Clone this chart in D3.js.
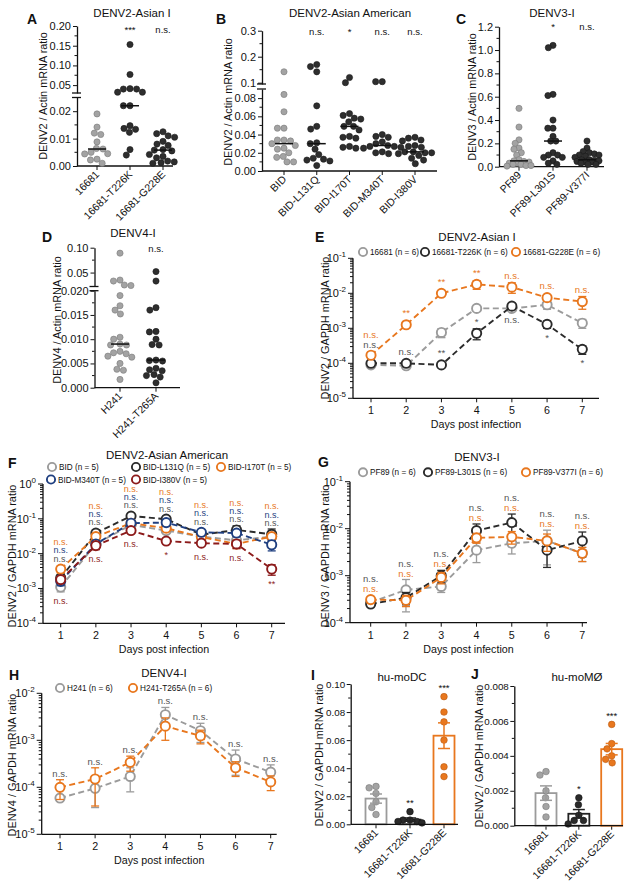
<!DOCTYPE html>
<html><head><meta charset="utf-8">
<script src="https://cdn.jsdelivr.net/npm/d3@7"></script>
<style>body{margin:0;background:#fff}svg{display:block}</style>
</head><body><svg id="c" width="639" height="886"></svg>
<script>
// ---------------- DATA ----------------
// Panel A
const catsA = ["16681", "16681-T226K", "16681-G228E"];
const a16681 = [0.019, 0.0142, 0.0120, 0.0115, 0.0088, 0.0064, 0.0062, 0.0050, 0.0045, 0.0044, 0.0025, 0.0022, 0.0010];
const aT226K = [0.153, 0.077, 0.041, 0.040, 0.040, 0.032, 0.032, 0.022, 0.022, 0.0147, 0.0137, 0.0134, 0.0123, 0.0060, 0.0040];
const aG228E = [0.0125, 0.0118, 0.0110, 0.0105, 0.0090, 0.0080, 0.0075, 0.0060, 0.0058, 0.0055, 0.0042, 0.0035, 0.0030, 0.0018, 0.0015, 0.0012, 0.0010];
const sigA = ["", "***", "n.s."];
const ticksALow = [0, 0.01, 0.02], ticksAHigh = [0.05, 0.10, 0.15, 0.20];
// Panel B
const catsB = ["BID", "BID-L131Q", "BID-I170T", "BID-M340T", "BID-I380V"];
const bBID = [0.142, 0.084, 0.065, 0.047, 0.047, 0.034, 0.034, 0.033, 0.030, 0.028, 0.025, 0.024, 0.020, 0.016, 0.015, 0.010, 0.010];
const bL131Q = [0.170, 0.162, 0.142, 0.0715, 0.049, 0.046, 0.031, 0.030, 0.024, 0.018, 0.014, 0.013, 0.012, 0.011, 0.006];
const bI170T = [0.120, 0.100, 0.063, 0.061, 0.058, 0.057, 0.054, 0.049, 0.049, 0.045, 0.038, 0.037, 0.036, 0.027, 0.026, 0.025];
const bM340T = [0.104, 0.104, 0.040, 0.038, 0.037, 0.032, 0.030, 0.028, 0.027, 0.027, 0.026, 0.025, 0.021, 0.020, 0.019];
const bI380V = [0.037, 0.036, 0.034, 0.033, 0.028, 0.027, 0.026, 0.021, 0.021, 0.020, 0.020, 0.019, 0.017, 0.014, 0.012, 0.008];
const sigB = ["", "n.s.", "*", "n.s.", "n.s."];
const ticksBLow = [0, 0.02, 0.04, 0.06, 0.08], ticksBHigh = [0.1, 0.2, 0.3];
// Panel C
const catsC = ["PF89", "PF89-L301S", "PF89-V377I"];
const cPF89 = [0.50, 0.34, 0.23, 0.20, 0.16, 0.15, 0.12, 0.10, 0.06, 0.05, 0.045, 0.04, 0.03, 0.03, 0.02, 0.02, 0.01, 0.01, 0.005];
const cL301S = [1.04, 1.02, 0.62, 0.61, 0.40, 0.33, 0.33, 0.26, 0.22, 0.22, 0.12, 0.10, 0.10, 0.08, 0.08, 0.05, 0.03, 0.02];
const cV377I = [0.22, 0.16, 0.13, 0.12, 0.11, 0.10, 0.10, 0.09, 0.08, 0.06, 0.06, 0.055, 0.05, 0.045, 0.04, 0.04, 0.03, 0.02, 0.02];
const sigC = ["", "*", "n.s."];
const ticksC = [0, 0.2, 0.4, 0.6, 0.8, 1.0, 1.2];
// Panel D
const catsD = ["H241", "H241-T265A"];
const dH241 = [0.089, 0.035, 0.033, 0.025, 0.024, 0.019, 0.0169, 0.0160, 0.0152, 0.0104, 0.0100, 0.0090, 0.0088, 0.0088, 0.0075, 0.0072, 0.0070, 0.0065, 0.0063, 0.0050, 0.0038, 0.0036, 0.0017];
const dT265A = [0.052, 0.033, 0.0165, 0.0160, 0.0116, 0.0115, 0.0100, 0.0089, 0.0088, 0.0057, 0.0056, 0.0055, 0.0040, 0.0037, 0.0035, 0.0027, 0.0025, 0.0022, 0.0010];
const sigD = ["", "n.s."];
const ticksDLow = [0, 0.005, 0.010, 0.015, 0.020], ticksDHigh = [0.05, 0.10];
// Time courses
const days = [1, 2, 3, 4, 5, 6, 7];
// Panel E
const e16681 = [9e-5, 8.5e-5, 7.6e-4, 3.7e-3, 3.7e-3, 4.7e-3, 1.4e-3];
const e16681Sem = [1e-5, 1e-5, 2.2e-4, 5e-4, 5e-4, 1.2e-3, 4e-4];
const eT226K = [1.0e-4, 1.0e-4, 9e-5, 7.2e-4, 4.3e-3, 1.3e-3, 2.5e-4];
const eT226KSem = [1e-5, 1e-5, 1e-5, 2.5e-4, 8e-4, 3e-4, 7e-5];
const eG228E = [1.7e-4, 1.26e-3, 1.0e-2, 1.8e-2, 1.5e-2, 7.5e-3, 5.8e-3];
const eG228ESem = [3e-5, 2e-4, 1.5e-3, 5e-3, 5e-3, 1.5e-3, 2.3e-3];
const eSigT226K = ["n.s.", "n.s.", "**", "*", "n.s.", "*", "*"];
const eSigG228E = ["n.s.", "**", "**", "**", "n.s.", "n.s.", "n.s."];
// Panel F
const fBID = [1.1e-3, 0.019, 0.067, 0.046, 0.031, 0.024, 0.031];
const fBIDSem = [3e-4, 4e-3, 1e-2, 8e-3, 5e-3, 5e-3, 8e-3];
const fL131Q = [2.0e-3, 0.039, 0.12, 0.098, 0.035, 0.048, 0.036];
const fL131QSem = [5e-4, 1e-2, 2e-2, 2e-2, 5e-3, 1.5e-2, 1.5e-2];
const fI170T = [3.6e-3, 0.031, 0.075, 0.054, 0.030, 0.019, 0.031];
const fI170TSem = [8e-4, 5e-3, 1e-2, 1e-2, 5e-3, 5e-3, 5e-3];
const fM340T = [1.6e-3, 0.019, 0.075, 0.078, 0.041, 0.039, 0.018];
const fM340TSem = [4e-4, 5e-3, 1e-2, 1.5e-2, 8e-3, 8e-3, 6e-3];
const fI380V = [1.8e-3, 0.017, 0.046, 0.023, 0.020, 0.019, 3.6e-3];
const fI380VSem = [4e-4, 4e-3, 8e-3, 3e-3, 3e-3, 5e-3, 1.2e-3];
const fSigL131Q = ["n.s.", "n.s.", "n.s.", "n.s.", "n.s.", "n.s.", "n.s."];
const fSigI170T = ["n.s.", "n.s.", "n.s.", "n.s.", "n.s.", "n.s.", "n.s."];
const fSigM340T = ["n.s.", "n.s.", "n.s.", "n.s.", "n.s.", "n.s.", "n.s."];
const fSigI380V = ["n.s.", "n.s.", "n.s.", "*", "n.s.", "n.s.", "**"];
// Panel G
const gPF89 = [2.7e-4, 5e-4, 5.9e-4, 3.5e-3, 4.9e-3, 5.5e-3, 3.0e-3];
const gPF89Sem = [4e-5, 3.3e-4, 1.5e-4, 1.6e-3, 2e-3, 3.8e-3, 1e-3];
const gL301S = [2.5e-4, 3.4e-4, 1.0e-3, 9.1e-3, 1.35e-2, 3.5e-3, 5.5e-3];
const gL301SSem = [3e-5, 1e-4, 3e-4, 3.5e-3, 7e-3, 2e-3, 3e-3];
const gV377I = [3.1e-4, 3.0e-4, 9.2e-4, 6.4e-3, 6.7e-3, 5.5e-3, 3.0e-3];
const gV377ISem = [5e-5, 8e-5, 2.5e-4, 1.5e-3, 2e-3, 2.2e-3, 1e-3];
const gSigL301S = ["n.s.", "n.s.", "n.s.", "n.s.", "n.s.", "n.s.", "n.s."];
const gSigV377I = ["n.s.", "n.s.", "n.s.", "n.s.", "n.s.", "n.s.", "n.s."];
// Panel H
const hH241 = [5.9e-5, 9.5e-5, 1.7e-4, 3.5e-3, 1.6e-3, 4.0e-4, 2.1e-4];
const hH241Sem = [8e-6, 5.8e-5, 9e-5, 1.5e-3, 7e-4, 2.2e-4, 9e-5];
const hT265A = [1.0e-4, 1.5e-4, 3.4e-4, 2.0e-3, 1.24e-3, 2.6e-4, 1.3e-4];
const hT265ASem = [4.5e-5, 1.1e-4, 1.2e-4, 1e-3, 4e-4, 9e-5, 4.5e-5];
const hSigT265A = ["n.s.", "n.s.", "n.s.", "n.s.", "n.s.", "n.s.", "n.s."];
// Panels I / J
const catsIJ = ["16681", "16681-T226K", "16681-G228E"];
const i16681 = [0.027, 0.026, 0.022, 0.016, 0.012, 0.007];
const iT226K = [0.009, 0.003, 0.003, 0.002, 0.002, 0.001];
const iG228E = [0.091, 0.080, 0.073, 0.060, 0.041, 0.034];
const sigI = ["", "**", "***"];
const ticksI = [0, 0.02, 0.04, 0.06, 0.08, 0.10];
const j16681 = [0.0031, 0.0029, 0.0020, 0.0016, 0.0011, 0.0005];
const jT226K = [0.0016, 0.0012, 0.0006, 0.0003, 0.0003, 0.0001];
const jG228E = [0.0058, 0.0047, 0.0044, 0.0040, 0.0038, 0.0036];
const sigJ = ["", "*", "***"];
const ticksJ = [0, 0.002, 0.004, 0.006, 0.008];

// ---------------- DRAWING ----------------
const FONT = '"Liberation Sans", Arial, Helvetica, sans-serif';
const COL = {gray: "#9b9b9b", black: "#2b2b2b", orange: "#e8771e", navy: "#1f3f80", red: "#8c1b1b", ann: "#555555", ink: "#111111"};
const svg = d3.select("#c").attr("font-family", FONT);

function txt(g, x, y, s, o = {}) {
  const t = g.append("text").attr("x", x).attr("y", y).text(s)
    .attr("font-size", o.size || 11).attr("fill", o.fill || COL.ink)
    .attr("text-anchor", o.anchor || "start");
  if (o.weight) t.attr("font-weight", o.weight);
  if (o.rotate) t.attr("transform", `rotate(${o.rotate},${x},${y})`);
  return t;
}
function yLabel(g, cx, cy, s) { txt(g, cx + 4, cy, s, {size: 10.9, anchor: "middle", rotate: -90}); }
function letter(g, x, y, s) { txt(g, x, y, s, {size: 14, weight: "bold"}); }
function line(g, x1, y1, x2, y2, col, w) {
  return g.append("line").attr("x1", x1).attr("y1", y1).attr("x2", x2).attr("y2", y2)
    .attr("stroke", col || COL.ink).attr("stroke-width", w || 1);
}
// deterministic beeswarm: places each dot at the smallest horizontal offset that avoids overlap
function swarm(ys, cx, r, sep, maxOff) {
  const d = sep || 2 * r + 0.4, M = maxOff || 1e9;
  const idx = ys.map((y, i) => i).sort((a, b) => ys[a] - ys[b]);
  const placed = [], xs = new Array(ys.length);
  idx.forEach(i => {
    const y = ys[i];
    const near = placed.filter(p => Math.abs(p.y - y) < d);
    const cands = [0];
    near.forEach(p => { const dx = Math.sqrt(d * d - (p.y - y) ** 2); cands.push(p.x + dx - cx, p.x - dx - cx); });
    cands.sort((a, b) => Math.abs(a) - Math.abs(b) || a - b);
    let xo = null;
    for (const c of cands) {
      if (Math.abs(c) > M + 1e-6) continue;
      if (near.every(p => (p.x - (cx + c)) ** 2 + (p.y - y) ** 2 >= d * d - 0.01)) { xo = c; break; }
    }
    if (xo === null) {
      let best = -1;
      for (let c = -M; c <= M + 1e-6; c += 1) {
        const md = d3.min(near, p => (p.x - (cx + c)) ** 2 + (p.y - y) ** 2);
        if (md > best) { best = md; xo = c; }
      }
    }
    xs[i] = cx + xo; placed.push({x: cx + xo, y});
  });
  return xs;
}
function styleAxis(ga, fs) {
  ga.attr("font-family", FONT).attr("font-size", fs || 11);
  ga.selectAll("text").attr("fill", COL.ink);
  ga.selectAll(".tick line").attr("stroke", COL.ink);
  ga.select(".domain").attr("stroke", COL.ink).attr("stroke-width", 1.3);
}

function scatterPanel(p) {
  const g = svg.append("g");
  const x = d3.scalePoint().domain(p.cats).range(p.xr);
  const segs = p.segs.map(s => Object.assign({}, s, {sc: d3.scaleLinear().domain(s.domain).range(s.range)}));
  const yf = v => { for (const s of segs) if (v <= s.domain[1] + 1e-12) return s.sc(v); return segs[segs.length - 1].sc(v); };
  const y0 = segs[0].range[0];
  segs.forEach(s => {
    const ax = d3.axisLeft(s.sc).tickValues(s.ticks).tickFormat(d3.format(s.fmt)).tickSize(4).tickSizeOuter(0).tickPadding(2);
    const ga = g.append("g").attr("transform", `translate(${p.ax},0)`).call(ax);
    styleAxis(ga);
    (s.minor || []).forEach(m => line(g, p.ax - 2.5, s.sc(m), p.ax, s.sc(m)));
  });
  for (let i = 0; i < segs.length - 1; i++) {
    [segs[i].range[1], segs[i + 1].range[0]].forEach(yy => line(g, p.ax - 5, yy, p.ax + 4, yy, COL.ink, 1.3));
  }
  line(g, p.ax, y0, p.xEnd, y0, COL.ink, 1.3);
  p.cats.forEach(c => {
    line(g, x(c), y0, x(c), y0 + 4);
    txt(g, x(c) + 3, y0 + 9, c, {size: 10.5, anchor: "end", rotate: -45});
  });
  p.series.forEach((vals, i) => {
    const cx = x(p.cats[i]);
    const ys = vals.map(yf);
    const xs = swarm(ys, cx, p.r, p.sep, p.maxOff);
    g.append("g").selectAll("circle").data(vals).join("circle")
      .attr("cx", (d, k) => xs[k]).attr("cy", (d, k) => ys[k]).attr("r", p.r)
      .attr("fill", i === 0 ? "#a3a3a3" : "#2e2e2e")
      .attr("stroke", i === 0 ? "#7a7a7a" : "#1a1a1a").attr("stroke-width", 0.6);
    const my = yf(d3.median(vals));
    line(g, cx - 9, my, cx + 9, my, COL.ink, 1.5);
  });
  p.sig.forEach((s, i) => { if (s) txt(g, x(p.cats[i]), p.sigY, s, {size: 9.5, anchor: "middle"}); });
  txt(g, p.title[0], p.title[1], p.title[2], {size: 11.5, anchor: "middle"});
  letter(g, p.letter[0], p.letter[1], p.letter[2]);
  yLabel(g, p.ylab[0], p.ylab[1], p.ylab[2]);
}

function linePanel(p) {
  const g = svg.append("g");
  const x = d3.scaleLinear().domain([1, 7]).range(p.xr);
  const y = d3.scaleLog().domain(p.yd).range(p.yr);
  const e0 = Math.round(Math.log10(p.yd[0])), e1 = Math.round(Math.log10(p.yd[1]));
  line(g, p.left, p.yr[0], p.left, p.yr[1], COL.ink, 1.3);
  for (let e = e0; e <= e1; e++) {
    const yy = y(10 ** e);
    line(g, p.left - 5, yy, p.left, yy);
    const t = g.append("text").attr("x", p.left - 7).attr("y", yy + 4).attr("text-anchor", "end")
      .attr("font-size", 11).attr("fill", COL.ink);
    t.append("tspan").text("10");
    t.append("tspan").attr("dy", -5).attr("font-size", 8).text(e);
    if (e < e1) for (let k = 2; k <= 9; k++) line(g, p.left - 3, y(k * 10 ** e), p.left, y(k * 10 ** e));
  }
  line(g, p.left, p.yr[0], p.right, p.yr[0], COL.ink, 1.3);
  days.forEach(d => {
    line(g, x(d), p.yr[0], x(d), p.yr[0] + 4);
    txt(g, x(d), p.yr[0] + 16, d, {size: 10.7, anchor: "middle"});
  });
  txt(g, (p.left + p.right) / 2, p.yr[0] + 30, "Days post infection", {size: 10.7, anchor: "middle"});
  const R = 4.6, lo = p.yd[0];
  const top = days.map((d, i) => d3.min(p.series, s => Math.min(y(s.v[i] + s.e[i]), y(s.v[i]) - R)));
  const bot = days.map((d, i) => d3.max(p.series, s => Math.max(y(Math.max(s.v[i] - s.e[i], lo)), y(s.v[i]) + R)));
  p.series.forEach(s => {
    g.append("path").datum(s.v)
      .attr("d", d3.line().x((d, i) => x(days[i])).y(d => y(d)))
      .attr("fill", "none").attr("stroke", s.col).attr("stroke-width", 1.9).attr("stroke-dasharray", "6,3.5");
    s.v.forEach((v, i) => {
      const cx = x(days[i]);
      const yt = y(v + s.e[i]), yb = y(Math.max(v - s.e[i], lo));
      line(g, cx, yt, cx, yb, s.col, 1.3);
      line(g, cx - 4, yt, cx + 4, yt, s.col, 1.3);
      line(g, cx - 4, yb, cx + 4, yb, s.col, 1.3);
    });
    g.append("g").selectAll("circle").data(s.v).join("circle")
      .attr("cx", (d, i) => x(days[i])).attr("cy", d => y(d)).attr("r", R)
      .attr("fill", "#fff").attr("stroke", s.col).attr("stroke-width", 1.9);
  });
  const stackCount = days.map(() => 0);
  p.labels.forEach(L => {
    const s = p.series[L.series];
    L.text.forEach((t, i) => {
      const m = L.mode[i], cx = x(days[i]);
      let by;
      if (m === "s") { by = top[i] - 3 - stackCount[i] * p.gap; stackCount[i]++; }
      else if (m === "a") by = Math.min(y(s.v[i] + s.e[i]), y(s.v[i]) - R) - 4;
      else if (m === "b") by = Math.max(y(Math.max(s.v[i] - s.e[i], lo)), y(s.v[i]) + R) + 12;
      else by = bot[i] + 12;
      txt(g, cx, by, t, {size: p.annSize, anchor: "middle", fill: L.col});
    });
  });
  txt(g, p.title[0], p.title[1], p.title[2], {size: 11.5, anchor: "middle"});
  p.legend.forEach(it => {
    g.append("circle").attr("cx", it[0]).attr("cy", it[1]).attr("r", 4.1)
      .attr("fill", "#fff").attr("stroke", it[2]).attr("stroke-width", 1.9);
    txt(g, it[0] + 7, it[1] + 3, it[3], {size: 8.2});
  });
  letter(g, p.letter[0], p.letter[1], p.letter[2]);
  yLabel(g, p.ylab[0], p.ylab[1], p.ylab[2]);
}

function barPanel(p) {
  const g = svg.append("g");
  const x = d3.scalePoint().domain(p.cats).range(p.xr);
  const y = d3.scaleLinear().domain(p.yd).range(p.yr);
  const ga = g.append("g").attr("transform", `translate(${p.ax},0)`)
    .call(d3.axisLeft(y).tickValues(p.ticks).tickFormat(d3.format(p.fmt)).tickSize(4).tickSizeOuter(0).tickPadding(1.5));
  styleAxis(ga, 9.8);
  p.minor.forEach(m => line(g, p.ax - 2.5, y(m), p.ax, y(m)));
  const y0 = p.yr[0];
  p.cats.forEach(c => {
    line(g, x(c), y0, x(c), y0 + 4);
    txt(g, x(c) + 3, y0 + 9, c, {size: 10.5, anchor: "end", rotate: -45});
  });
  const cols = [COL.gray, "#222", COL.orange];
  const fills = ["#a3a3a3", "#2a2a2a", COL.orange];
  const strokes = ["#7a7a7a", "#111", "#b85a10"];
  p.series.forEach((vals, i) => {
    const cx = x(p.cats[i]);
    const mean = d3.mean(vals), sem = d3.deviation(vals) / Math.sqrt(vals.length);
    g.append("rect").attr("x", cx - 10.5).attr("width", 21).attr("y", y(mean)).attr("height", y0 - y(mean))
      .attr("fill", "none").attr("stroke", cols[i]).attr("stroke-width", 1.8);
    const ys = vals.map(v => y(v));
    const xs = swarm(ys, cx, 3.3, 7, 12);
    g.append("g").selectAll("circle").data(vals).join("circle")
      .attr("cx", (d, k) => xs[k]).attr("cy", (d, k) => ys[k]).attr("r", 3.3)
      .attr("fill", fills[i]).attr("stroke", strokes[i]).attr("stroke-width", 0.6);
    const yt = y(mean + sem), yb = y(mean - sem);
    line(g, cx, yt, cx, yb, cols[i], 1.5);
    line(g, cx - 6, yt, cx + 6, yt, cols[i], 1.5);
    line(g, cx - 6, yb, cx + 6, yb, cols[i], 1.5);
    if (p.sig[i]) txt(g, cx, y(d3.max(vals)) - 5.5, p.sig[i], {size: 9.5, anchor: "middle"});
  });
  line(g, p.ax, y0, p.xEnd, y0, COL.ink, 1.3);
  txt(g, p.title[0], p.title[1], p.title[2], {size: 11.5, anchor: "middle"});
  letter(g, p.letter[0], p.letter[1], p.letter[2]);
  yLabel(g, p.ylab[0], p.ylab[1], p.ylab[2]);
}

// ---- Panel A
scatterPanel({
  cats: catsA, series: [a16681, aT226K, aG228E], xr: [97, 163], ax: 77, xEnd: 173, r: 3.1,
  segs: [
    {domain: [0, 0.025], range: [166, 97.5], ticks: ticksALow, fmt: ".2f", minor: [0.005, 0.015]},
    {domain: [0.03, 0.2], range: [93, 26], ticks: ticksAHigh, fmt: ".2f", minor: [0.075, 0.125, 0.175]}
  ],
  sig: sigA, sigY: 33, title: [132, 17, "DENV2-Asian I"], letter: [27, 24, "A"],
  ylab: [43, 96, "DENV2 / Actin mRNA ratio"]
});
// ---- Panel B
scatterPanel({
  cats: catsB, series: [bBID, bL131Q, bI170T, bM340T, bI380V], xr: [284, 415], ax: 262, xEnd: 437, r: 3.1,
  segs: [
    {domain: [0, 0.09], range: [171, 89], ticks: ticksBLow, fmt: ".2f", minor: [0.01, 0.03, 0.05, 0.07]},
    {domain: [0.095, 0.3], range: [84, 30.7], ticks: ticksBHigh, fmt: ".1f", minor: [0.15, 0.25]}
  ],
  sig: sigB, sigY: 35, title: [350, 17, "DENV2-Asian American"], letter: [216, 24, "B"],
  ylab: [228, 102, "DENV2 / Actin mRNA ratio"]
});
// ---- Panel C
scatterPanel({
  cats: catsC, series: [cPF89, cL301S, cV377I], xr: [519, 587], ax: 499, xEnd: 604, r: 3.1, sep: 5.2, maxOff: 12,
  segs: [{domain: [0, 1.2], range: [166.7, 26.7], ticks: ticksC, fmt: ".1f", minor: [0.1, 0.3, 0.5, 0.7, 0.9, 1.1]}],
  sig: sigC, sigY: 30, title: [552, 17, "DENV3-I"], letter: [456, 24, "C"],
  ylab: [472, 97, "DENV3 / Actin mRNA ratio"]
});
// ---- Panel D
scatterPanel({
  cats: catsD, series: [dH241, dT265A], xr: [120, 156], ax: 94.5, xEnd: 180, r: 3.1, maxOff: 14,
  segs: [
    {domain: [0, 0.020], range: [387.7, 290.7], ticks: ticksDLow, fmt: ".3f", minor: [0.0025, 0.0075, 0.0125, 0.0175]},
    {domain: [0.022, 0.10], range: [286.5, 247.7], ticks: ticksDHigh, fmt: ".2f", minor: [0.075]}
  ],
  sig: sigD, sigY: 252, title: [133, 237, "DENV4-I"], letter: [42, 242, "D"],
  ylab: [57, 320, "DENV4 / Actin mRNA ratio"]
});
// ---- Panel E
linePanel({
  left: 353, right: 599, xr: [371, 582.3], yd: [1e-5, 1e-1], yr: [398.3, 258.3], gap: 9.5, annSize: 9.5,
  series: [
    {v: e16681, e: e16681Sem, col: COL.gray},
    {v: eT226K, e: eT226KSem, col: COL.black},
    {v: eG228E, e: eG228ESem, col: COL.orange}
  ],
  labels: [
    {series: 1, text: eSigT226K, mode: ["s", "a", "a", "a", "b", "b", "b"], col: COL.ann},
    {series: 2, text: eSigG228E, mode: ["s", "a", "a", "a", "a", "a", "a"], col: COL.orange}
  ],
  title: [477, 241, "DENV2-Asian I"],
  legend: [[363, 252, COL.gray, "16681 (n = 6)"], [425, 252, COL.black, "16681-T226K (n = 6)"], [516, 252, COL.orange, "16681-G228E (n = 6)"]],
  letter: [315, 242, "E"], ylab: [325, 328, "DENV2 / GAPDH mRNA ratio"]
});
// ---- Panel F
linePanel({
  left: 43, right: 285, xr: [60.7, 271.7], yd: [1e-4, 1], yr: [623.3, 484], gap: 8.4, annSize: 9,
  series: [
    {v: fBID, e: fBIDSem, col: COL.gray},
    {v: fL131Q, e: fL131QSem, col: COL.black},
    {v: fI170T, e: fI170TSem, col: COL.orange},
    {v: fM340T, e: fM340TSem, col: COL.navy},
    {v: fI380V, e: fI380VSem, col: COL.red}
  ],
  labels: [
    {series: 1, text: fSigL131Q, mode: ["s", "s", "s", "s", "s", "s", "s"], col: COL.ann},
    {series: 3, text: fSigM340T, mode: ["s", "s", "s", "s", "s", "s", "s"], col: COL.navy},
    {series: 2, text: fSigI170T, mode: ["s", "s", "s", "s", "s", "s", "s"], col: COL.orange},
    {series: 4, text: fSigI380V, mode: ["B", "B", "B", "B", "B", "B", "B"], col: COL.red}
  ],
  title: [167, 459, "DENV2-Asian American"],
  legend: [[52, 467, COL.gray, "BID (n = 5)"], [136, 467, COL.black, "BID-L131Q (n = 5)"], [221, 467, COL.orange, "BID-I170T (n = 5)"],
           [51, 479.5, COL.navy, "BID-M340T (n = 5)"], [136, 479.5, COL.red, "BID-I380V (n = 5)"]],
  letter: [8, 468, "F"], ylab: [12, 556, "DENV2 / GAPDH mRNA ratio"]
});
// ---- Panel G
linePanel({
  left: 350, right: 587, xr: [370.7, 582.3], yd: [1e-4, 1e-1], yr: [622.7, 481.7], gap: 10, annSize: 9.5,
  series: [
    {v: gPF89, e: gPF89Sem, col: COL.gray},
    {v: gL301S, e: gL301SSem, col: COL.black},
    {v: gV377I, e: gV377ISem, col: COL.orange}
  ],
  labels: [
    {series: 2, text: gSigV377I, mode: ["s", "s", "s", "s", "s", "s", "s"], col: COL.orange},
    {series: 1, text: gSigL301S, mode: ["s", "s", "s", "s", "s", "s", "s"], col: COL.ann}
  ],
  title: [477, 461, "DENV3-I"],
  legend: [[363, 472.3, COL.gray, "PF89 (n = 6)"], [428, 472.3, COL.black, "PF89-L301S (n = 6)"], [526, 472.3, COL.orange, "PF89-V377I (n = 6)"]],
  letter: [318, 467, "G"], ylab: [325, 556, "DENV3 / GAPDH mRNA ratio"]
});
// ---- Panel H
linePanel({
  left: 41.7, right: 276.7, xr: [60, 270.7], yd: [1e-5, 1e-2], yr: [834.3, 693.3], gap: 10, annSize: 9.5,
  series: [
    {v: hH241, e: hH241Sem, col: COL.gray},
    {v: hT265A, e: hT265ASem, col: COL.orange}
  ],
  labels: [{series: 1, text: hSigT265A, mode: ["s", "s", "s", "s", "s", "s", "s"], col: COL.ann}],
  title: [164, 677, "DENV4-I"],
  legend: [[60, 688, COL.gray, "H241 (n = 6)"], [133, 688, COL.orange, "H241-T265A (n = 6)"]],
  letter: [9, 680, "H"], ylab: [12, 765, "DENV4 / GAPDH mRNA ratio"]
});
// ---- Panel I
barPanel({
  cats: catsIJ, series: [i16681, iT226K, iG228E], xr: [376, 444], ax: 350.7, xEnd: 458,
  yd: [0, 0.1], yr: [824.3, 684], ticks: ticksI, fmt: ".2f", minor: [0.01, 0.03, 0.05, 0.07, 0.09],
  sig: sigI, title: [402, 681, "hu-moDC"], letter: [311, 680, "I"], ylab: [319, 755, "DENV2 / GAPDH mRNA ratio"]
});
// ---- Panel J
barPanel({
  cats: catsIJ, series: [j16681, jT226K, jG228E], xr: [546, 611.7], ax: 514.3, xEnd: 623,
  yd: [0, 0.008], yr: [825.7, 686], ticks: ticksJ, fmt: ".3f", minor: [0.001, 0.003, 0.005, 0.007],
  sig: sigJ, title: [577, 681, "hu-moMØ"], letter: [471, 679, "J"], ylab: [479, 756, "DENV2 / GAPDH mRNA ratio"]
});
</script></body></html>
